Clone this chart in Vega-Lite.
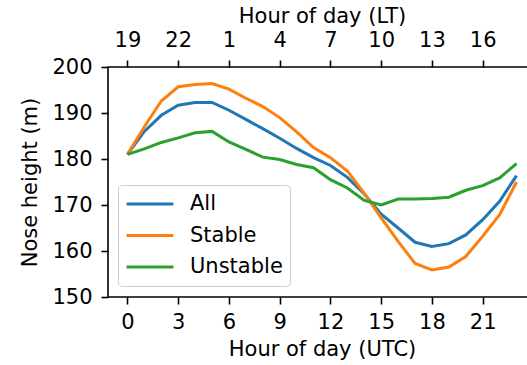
{
  "$schema": "https://vega.github.io/schema/vega-lite/v6.json",
  "width": 428,
  "height": 230,
  "autosize": "none",
  "padding": {"left": 108, "top": 67, "right": 0, "bottom": 68},
  "config": {
    "font": "DejaVu Sans",
    "view": {"stroke": "black", "strokeWidth": 1.6},
    "axis": {
      "grid": false,
      "domain": false,
      "tickColor": "black",
      "tickWidth": 1.6,
      "tickSize": 7,
      "labelPadding": 7,
      "labelFontSize": 21,
      "labelColor": "black",
      "labelFont": "DejaVu Sans",
      "titleFont": "DejaVu Sans",
      "titleFontSize": 21,
      "titleFontWeight": "normal",
      "titleColor": "black"
    }
  },
  "data": {
    "values": [
      {"hour": 0, "series": "All", "value": 181.0},
      {"hour": 1, "series": "All", "value": 186.0},
      {"hour": 2, "series": "All", "value": 189.5},
      {"hour": 3, "series": "All", "value": 191.7},
      {"hour": 4, "series": "All", "value": 192.3},
      {"hour": 5, "series": "All", "value": 192.3},
      {"hour": 6, "series": "All", "value": 190.6},
      {"hour": 7, "series": "All", "value": 188.6},
      {"hour": 8, "series": "All", "value": 186.6},
      {"hour": 9, "series": "All", "value": 184.5},
      {"hour": 10, "series": "All", "value": 182.3},
      {"hour": 11, "series": "All", "value": 180.3},
      {"hour": 12, "series": "All", "value": 178.6},
      {"hour": 13, "series": "All", "value": 176.0},
      {"hour": 14, "series": "All", "value": 172.4},
      {"hour": 15, "series": "All", "value": 168.0},
      {"hour": 16, "series": "All", "value": 165.0},
      {"hour": 17, "series": "All", "value": 161.9},
      {"hour": 18, "series": "All", "value": 161.0},
      {"hour": 19, "series": "All", "value": 161.6},
      {"hour": 20, "series": "All", "value": 163.5},
      {"hour": 21, "series": "All", "value": 166.8},
      {"hour": 22, "series": "All", "value": 170.8},
      {"hour": 23, "series": "All", "value": 176.4},
      {"hour": 0, "series": "Stable", "value": 181.0},
      {"hour": 1, "series": "Stable", "value": 187.0},
      {"hour": 2, "series": "Stable", "value": 192.6},
      {"hour": 3, "series": "Stable", "value": 195.7},
      {"hour": 4, "series": "Stable", "value": 196.2},
      {"hour": 5, "series": "Stable", "value": 196.4},
      {"hour": 6, "series": "Stable", "value": 195.2},
      {"hour": 7, "series": "Stable", "value": 193.2},
      {"hour": 8, "series": "Stable", "value": 191.4},
      {"hour": 9, "series": "Stable", "value": 189.0},
      {"hour": 10, "series": "Stable", "value": 185.9},
      {"hour": 11, "series": "Stable", "value": 182.5},
      {"hour": 12, "series": "Stable", "value": 180.3},
      {"hour": 13, "series": "Stable", "value": 177.4},
      {"hour": 14, "series": "Stable", "value": 172.5},
      {"hour": 15, "series": "Stable", "value": 167.2},
      {"hour": 16, "series": "Stable", "value": 162.1},
      {"hour": 17, "series": "Stable", "value": 157.3},
      {"hour": 18, "series": "Stable", "value": 155.9},
      {"hour": 19, "series": "Stable", "value": 156.5},
      {"hour": 20, "series": "Stable", "value": 158.8},
      {"hour": 21, "series": "Stable", "value": 163.2},
      {"hour": 22, "series": "Stable", "value": 167.9},
      {"hour": 23, "series": "Stable", "value": 175.0},
      {"hour": 0, "series": "Unstable", "value": 181.0},
      {"hour": 1, "series": "Unstable", "value": 182.2},
      {"hour": 2, "series": "Unstable", "value": 183.6},
      {"hour": 3, "series": "Unstable", "value": 184.6},
      {"hour": 4, "series": "Unstable", "value": 185.7},
      {"hour": 5, "series": "Unstable", "value": 186.0},
      {"hour": 6, "series": "Unstable", "value": 183.7},
      {"hour": 7, "series": "Unstable", "value": 182.1},
      {"hour": 8, "series": "Unstable", "value": 180.4},
      {"hour": 9, "series": "Unstable", "value": 179.9},
      {"hour": 10, "series": "Unstable", "value": 178.8},
      {"hour": 11, "series": "Unstable", "value": 178.1},
      {"hour": 12, "series": "Unstable", "value": 175.5},
      {"hour": 13, "series": "Unstable", "value": 173.7},
      {"hour": 14, "series": "Unstable", "value": 171.0},
      {"hour": 15, "series": "Unstable", "value": 170.0},
      {"hour": 16, "series": "Unstable", "value": 171.3},
      {"hour": 17, "series": "Unstable", "value": 171.3},
      {"hour": 18, "series": "Unstable", "value": 171.4},
      {"hour": 19, "series": "Unstable", "value": 171.7},
      {"hour": 20, "series": "Unstable", "value": 173.2},
      {"hour": 21, "series": "Unstable", "value": 174.2},
      {"hour": 22, "series": "Unstable", "value": 175.9},
      {"hour": 23, "series": "Unstable", "value": 179.0}
    ]
  },
  "layer": [
    {
      "mark": {"type": "line", "strokeWidth": 3},
      "encoding": {
        "x": {
          "field": "hour",
          "type": "quantitative",
          "scale": {"domain": [-1.15, 24.15], "nice": false, "zero": false},
          "axis": {
            "orient": "bottom",
            "values": [0, 3, 6, 9, 12, 15, 18, 21],
            "title": "Hour of day (UTC)",
            "titlePadding": 6
          }
        },
        "y": {
          "field": "value",
          "type": "quantitative",
          "scale": {"domain": [150, 200], "nice": false, "zero": false},
          "axis": {
            "values": [150, 160, 170, 180, 190, 200],
            "title": "Nose height (m)",
            "labelPadding": 9,
            "titlePadding": 11
          }
        },
        "color": {
          "field": "series",
          "type": "nominal",
          "scale": {"domain": ["All", "Stable", "Unstable"], "range": ["#1f77b4", "#ff7f0e", "#2ca02c"]},
          "legend": {
            "title": null,
            "orient": "none",
            "legendX": 10,
            "legendY": 118,
            "symbolType": "stroke",
            "symbolSize": 2200,
            "symbolStrokeWidth": 3,
            "clipHeight": 24,
            "labelFontSize": 21,
            "labelColor": "black",
            "labelFont": "DejaVu Sans",
            "labelOffset": 15,
            "rowPadding": 7.5,
            "padding": 7,
            "fillColor": "rgba(255,255,255,0.8)",
            "strokeColor": "#cccccc",
            "cornerRadius": 4
          }
        }
      }
    },
    {
      "mark": {"type": "rule", "opacity": 0},
      "encoding": {
        "x": {
          "field": "hour",
          "type": "quantitative",
          "scale": {"domain": [-1.15, 24.15], "nice": false, "zero": false},
          "axis": {
            "orient": "top",
            "values": [0, 3, 6, 9, 12, 15, 18, 21],
            "labelExpr": "(datum.value + 19) % 24",
            "title": "Hour of day (LT)",
            "labelPadding": 10,
            "titlePadding": 3
          }
        }
      }
    }
  ],
  "resolve": {"axis": {"x": "independent"}}
}
